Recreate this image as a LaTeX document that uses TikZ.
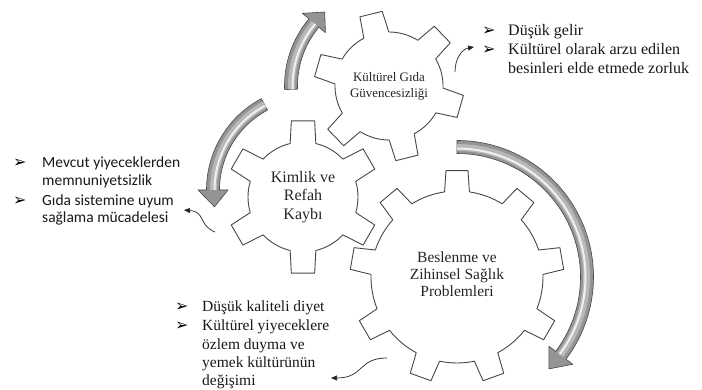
\documentclass[tikz,border=0pt]{standalone}
\usepackage{fontspec}
\setmainfont{Liberation Serif}
\newfontfamily\serifx{Liberation Serif}
\newfontfamily\calib{Carlito}
\newfontfamily\dejavu{DejaVu Sans}
\usetikzlibrary{arrows.meta}

\tikzset{
  gearline/.style={draw=black!72, line width=0.9pt, fill=white, line join=round},
  gtextA/.style={align=center, text=black!85, inner sep=0pt, font=\serifx\fontsize{13}{16}\selectfont},
  gtextB/.style={align=center, text=black!85, inner sep=0pt, font=\serifx\fontsize{16}{18.5}\selectfont},
  gtextC/.style={align=center, text=black!85, inner sep=0pt, font=\serifx\fontsize{15.5}{16.8}\selectfont},
  bandfill/.style={fill=black!42, draw=black!72, line width=0.6pt, line join=round},
  conn/.style={draw=black!85, line width=0.7pt, -{Triangle[length=6pt,width=5pt]}},
  sertext/.style={anchor=base west, inner sep=0pt, text=black!90, font=\serifx\fontsize{16}{19}\selectfont},
  sertextB/.style={anchor=base west, inner sep=0pt, text=black!90, font=\serifx\fontsize{15.5}{19}\selectfont},
  sanstext/.style={anchor=base west, inner sep=0pt, text=black!90, font=\calib\fontsize{15.5}{19}\selectfont},
  bul/.style={anchor=base west, inner sep=0pt, text=black, font=\dejavu\fontsize{16}{18}\selectfont},
}

% cx cy lastindex n R r offset tiphalf basehalf
\newcommand\mygear[9]{%
  \draw[gearline, shift={(#1,#2)}] (#7-#9:#6)
    \foreach \k [evaluate=\k as \a using {#7+360/#4*\k},
                 evaluate=\k as \b using {#7+360/#4*(\k+1)}] in {0,...,#3} {
      -- (\a-#8:#5) -- (\a+#8:#5) -- (\a+#9:#6)
      arc[start angle=\a+#9, end angle=\b-#9, radius=#6]
    } -- cycle;
}

% cx cy R w h tail base tip
\newcommand\myarrow[8]{%
  \begin{scope}[shift={(#1,#2)}]
    \path[bandfill] (#6:#3+#4) arc[start angle=#6, end angle=#7, radius=#3+#4]
      -- (#7:#3+#5) -- (#8:#3) -- (#7:#3-#5) -- (#7:#3-#4)
      arc[start angle=#7, end angle=#6, radius=#3-#4] -- cycle;
    \draw[line width=7pt, black!28] (#6:#3-0.5) arc[start angle=#6, end angle=#7, radius=#3-0.5];
    \draw[line width=2pt, black!6] (#6:#3-1.5) arc[start angle=#6, end angle=#7, radius=#3-1.5];
  \end{scope}
}

\begin{document}
\begin{tikzpicture}[x=1pt, y=1pt]
  \useasboundingbox (0,0) rectangle (702,390);
  \fill[white] (0,0) rectangle (702,390);

  % gears
  \mygear{457}{113}{8}{9}{107}{86}{90}{5.9}{8.3}
  \mygear{303}{193}{5}{6}{77}{55}{90}{8.7}{13.5}
  \mygear{389}{304}{5}{6}{75}{54}{104}{8.8}{13.8}

  % gear texts
  \node[gtextA] (g1) at (389,304) {Kültürel Gıda\\Güvencesizliği};
  \node[gtextB] (g2) at (303,193) {Kimlik ve\\Refah\\Kaybı};
  \node[gtextC] (g3) at (457,116) {Beslenme ve\\Zihinsel Sağlık\\Problemleri};

  % circular arrows
  \myarrow{389}{304}{98}{6.5}{15}{182}{140}{131}
  \myarrow{310}{200}{97}{6.5}{15}{118}{180}{190}
  \myarrow{457}{113}{130}{6.5}{15}{90}{-37}{-45}

  % top right text
  \node[bul] (b1) at (482,354) {➢};
  \node[bul] (b2) at (482,335) {➢};
  \node[sertext] (t1) at (508,354) {Düşük gelir};
  \node[sertext] (t2) at (508,335) {Kültürel olarak arzu edilen};
  \node[sertext] (t3) at (508,316) {besinleri elde etmede zorluk};

  % left text
  \node[bul] (b3) at (13,222) {➢};
  \node[bul] (b4) at (13,184) {➢};
  \node[sanstext] (l1) at (42,222) {Mevcut yiyeceklerden};
  \node[sanstext] (l2) at (42,204) {memnuniyetsizlik};
  \node[sanstext] (l3) at (42,184) {Gıda sistemine uyum};
  \node[sanstext] (l4) at (42,167) {sağlama mücadelesi};

  % bottom text
  \node[bul] (b5) at (175,78) {➢};
  \node[bul] (b6) at (175,59) {➢};
  \node[sertextB] (d1) at (202,78) {Düşük kaliteli diyet};
  \node[sertextB] (d2) at (202,59) {Kültürel yiyeceklere};
  \node[sertextB] (d3) at (202,40.5) {özlem duyma ve};
  \node[sertextB] (d4) at (202,22) {yemek kültürünün};
  \node[sertextB] (d5) at (202,4) {değişimi};

  % connectors
  \coordinate (c1s) at (455,318);
  \coordinate (c1e) at (474,343);
  \coordinate (c2s) at (215,158);
  \coordinate (c2e) at (184,180);
  \coordinate (c3s) at (387,32);
  \coordinate (c3e) at (331,12);
  \draw[conn] (c1s) .. controls (455,333) and (463,341) .. (c1e);
  \draw[conn] (c2s) .. controls (198,165) and (206,178) .. (c2e);
  \draw[conn] (c3s) .. controls (358,32) and (364,12) .. (c3e);
\end{tikzpicture}
\end{document}
